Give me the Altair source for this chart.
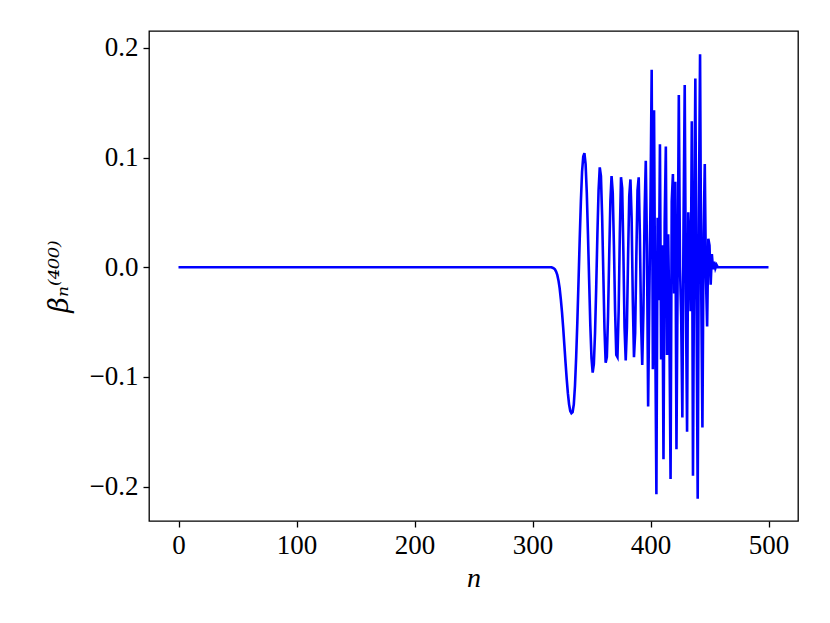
import altair as alt
import pandas as pd

# flat leading part n = 0..316 is zero
flat_start_count = 317
# values for n = 317 .. 460
osc_values = [
    -0.0005, -0.001, -0.002, -0.004, -0.007, -0.012, -0.019, -0.029, -0.041, -0.055,  # 317-326
    -0.071, -0.087, -0.102, -0.115, -0.125, -0.131, -0.133, -0.132, -0.125, -0.108,  # 327-336
    -0.082, -0.05, -0.013, 0.025, 0.06, 0.087, 0.101, 0.104, 0.094, 0.068,  # 337-346
    0.03, -0.012, -0.053, -0.083, -0.096, -0.088, -0.06, -0.018, 0.03, 0.07,  # 347-356
    0.091, 0.083, 0.047, -0.005, -0.056, -0.087, -0.082, -0.045, 0.01, 0.06,  # 357-366
    0.083, 0.068, 0.02, -0.04, -0.08, -0.082, -0.04, 0.03, 0.082, 0.072,  # 367-376
    0.015, -0.055, -0.085, -0.055, 0.01, 0.065, 0.08, 0.045, -0.03, -0.082,  # 377-386
    -0.06, 0.01, 0.07, 0.082, 0.03, -0.05, -0.089, -0.04, 0.05, 0.097,  # 387-396
    0.02, -0.127, -0.03, 0.06, 0.18, -0.093, 0.143, -0.052, -0.207, 0.045,  # 397-406
    -0.03, 0.112, -0.084, 0.02, -0.175, 0.04, 0.11, -0.08, 0.03, -0.05,  # 407-416
    -0.193, 0.06, 0.085, -0.024, 0.078, -0.166, -0.006, 0.157, 0.0, -0.045,  # 417-426
    -0.137, 0.04, 0.166, -0.03, -0.15, 0.05, 0.02, -0.04, 0.133, -0.19,  # 427-436
    0.02, 0.172, -0.03, -0.211, 0.05, 0.194, -0.02, -0.146, 0.03, 0.094,  # 437-446
    -0.01, -0.054, 0.026, 0.02, -0.016, 0.012, -0.002, 0.005, -0.001, 0.002,  # 447-456
    0.0, 0.0, 0.0, 0.0,  # 457-460
]
# trailing flat part n = 461..500
flat_end_count = 40

beta = [0.0] * flat_start_count + osc_values + [0.0] * flat_end_count
n_vals = list(range(len(beta)))

x_ticks = [0, 100, 200, 300, 400, 500]
y_ticks = [-0.2, -0.1, 0.0, 0.1, 0.2]

df = pd.DataFrame({"n": n_vals, "beta": beta})

FONT = "Liberation Serif"

chart = alt.Chart(df).mark_line(color="#0000ff", strokeWidth=2.6, clip=True).encode(
    x=alt.X("n:Q",
            scale=alt.Scale(domain=[-25, 525], nice=False, zero=False),
            axis=alt.Axis(values=x_ticks, title="n", titleFontStyle="italic",
                          titleFontSize=28, format="d", titlePadding=6)),
    y=alt.Y("beta:Q",
            scale=alt.Scale(domain=[-0.2313, 0.2153], nice=False, zero=False),
            axis=alt.Axis(values=y_ticks, title="βₙ⁽⁴⁰⁰⁾",
                          titleFont="DejaVu Serif", titleFontSize=27,
                          titleFontStyle="italic",
                          labelExpr="replace(format(datum.value, '.1f'), '-', '−')",
                          titlePadding=16)),
).properties(
    width=649, height=490,
    autosize=alt.AutoSizeParams(type="none"),
    padding={"left": 141, "top": 23, "right": 24, "bottom": 94},
).configure_view(
    stroke="black", strokeWidth=1.3
).configure_axis(
    grid=False,
    domain=False,
    ticks=True,
    tickColor="black",
    tickSize=6,
    tickWidth=1.3,
    labelFont=FONT,
    labelFontSize=27,
    labelColor="black",
    labelPadding=5,
    titleFont=FONT,
    titleFontSize=26,
    titleFontWeight="normal",
    titleColor="black",
)

chart.save("out.html", embed_options={"renderer": "svg", "actions": False})
